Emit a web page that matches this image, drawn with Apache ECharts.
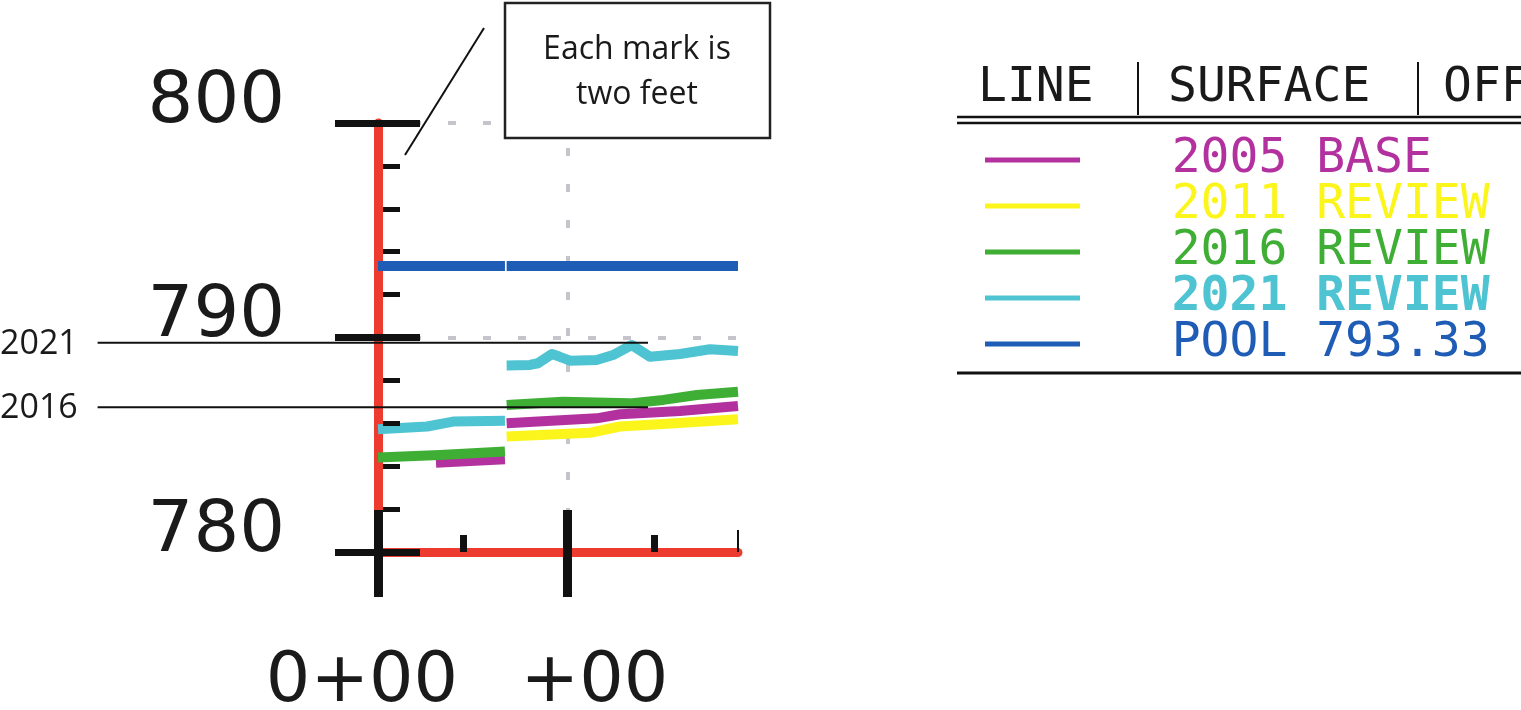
<!DOCTYPE html>
<html><head><meta charset="utf-8">
<script src="https://cdn.jsdelivr.net/npm/echarts@6/dist/echarts.min.js"></script>
<style>html,body{margin:0;padding:0;background:#fff}#c{width:1521px;height:710px}</style>
</head><body><div id="c"></div>
<script>
// ---- data ----
const seriesNames = ['2005 BASE', '2011 REVIEW', '2016 REVIEW', '2021 REVIEW', 'POOL 793.33'];
const seriesColors = ['#b2319f', '#fbf51c', '#3fae35', '#4ec3d2', '#1f5cb6'];
const base2005 = [[30.6,784.16],[67,784.32],[67.4,'-'],[67.9,786.0],[115.4,786.23],[127.7,786.42],[159.4,786.57],[190,786.81]];
const review2011 = [[67.9,785.38],[111.9,785.56],[127.7,785.85],[150.4,785.97],[190,786.19]];
const review2016 = [[0,784.41],[32.7,784.52],[67,784.68],[67.4,'-'],[67.9,786.85],[97.6,787.0],[133,786.93],[150.6,787.09],[168.3,787.32],[190,787.47]];
const review2021 = [[0,785.72],[25.9,785.85],[39.6,786.08],[67,786.12],[67.4,'-'],[67.9,788.7],[80.2,788.72],[84.4,788.8],[91.8,789.23],[96,789.1],[101.3,788.92],[115.4,788.95],[124,789.18],[133.9,789.65],[143.5,789.1],[159.4,789.23],[175.2,789.45],[190,789.37]];
const poolElev = 793.33;
const pool = [[0,poolElev],[67,poolElev],[67.4,'-'],[67.9,poolElev],[190,poolElev]];
const seriesData = [base2005, review2011, review2016, review2021, pool];

const yLabelValues = [780, 790, 800];
const xLabelValues = [0, 100];
const xLabelTexts = ['0+00', '+00'];
const xGridValues = [100];
const xMinorMarks = [45, 146];
const xEndMark = [190];
const tableHeaders = ['LINE', 'SURFACE', 'OFF'];
const annotations = [{ text: '2021', elev: 789.75 }, { text: '2016', elev: 786.75 }];
const noteLines = ['Each mark is', 'two feet'];

// ---- chart ----
const chart = echarts.init(document.getElementById('c'), null, { renderer: 'canvas' });
const RED = '#ee3b30', BLK = '#111', GRID = '#c4c4ca';
const grid = { left: 378, right: 783, top: 123, bottom: 158, containLabel: false, outerBoundsMode: 'none' };
const yBase = { type: 'value', min: 780, max: 800, interval: 10, gridIndex: 0, position: 'left' };
const xBase = { type: 'value', min: 0, max: 190, interval: 100, gridIndex: 0, position: 'bottom' };
const hidden = { axisLine: { show: false }, axisLabel: { show: false }, splitLine: { show: false } };
const xLabelPad = [[0, 32, 0, 0], [0, 0, 0, 54]];

function xLabelAxis(i) {
  return Object.assign({}, xBase, {
    z: i === 0 ? 0 : 5,
    axisLine: { show: i === 0, lineStyle: { color: RED, width: 9 } },
    axisTick: { show: false },
    splitLine: { show: false },
    axisLabel: {
      customValues: [xLabelValues[i]], showMinLabel: true, showMaxLabel: true, hideOverlap: false, margin: 96,
      fontFamily: 'DejaVu Sans', fontSize: 70, lineHeight: 70, color: '#1a1a1a',
      formatter: () => '{t|' + xLabelTexts[i] + '}',
      rich: { t: { fontFamily: 'DejaVu Sans', fontSize: 70, lineHeight: 70, color: '#1a1a1a', padding: xLabelPad[i] } }
    }
  });
}

const option = {
  animation: false,
  backgroundColor: '#fff',
  grid: grid,
  xAxis: [
    xLabelAxis(0),
    xLabelAxis(1),
    Object.assign({}, xBase, hidden, { z: 5, axisTick: { show: true, customValues: xLabelValues, length: 45, lineStyle: { color: BLK, width: 9 } } }),
    Object.assign({}, xBase, hidden, { z: 5, axisTick: { show: true, inside: true, customValues: xLabelValues, length: 42, lineStyle: { color: BLK, width: 9 } } }),
    Object.assign({}, xBase, hidden, { z: 5, axisTick: { show: true, inside: true, customValues: xMinorMarks, length: 17, lineStyle: { color: BLK, width: 7 } } }),
    Object.assign({}, xBase, hidden, { z: 5, axisTick: { show: true, inside: true, customValues: xEndMark, length: 22, lineStyle: { color: BLK, width: 2 } } })
  ],
  yAxis: [
    Object.assign({}, yBase, {
      z: 0,
      axisLine: { show: true, lineStyle: { color: RED, width: 9 } },
      axisTick: { show: false },
      splitLine: { show: true, lineStyle: { color: GRID, width: 4, type: [8, 27] } },
      axisLabel: { customValues: yLabelValues, showMinLabel: true, showMaxLabel: true, margin: 93, fontFamily: 'DejaVu Sans', fontSize: 72, lineHeight: 40, verticalAlign: 'bottom', color: '#1a1a1a' }
    }),
    Object.assign({}, yBase, hidden, { z: 5, offset: -5, axisTick: { show: false, inside: true }, minorTick: { show: true, splitNumber: 5, length: 17, lineStyle: { color: BLK, width: 5 } } }),
    Object.assign({}, yBase, hidden, { z: 5, axisTick: { show: true, length: 43, lineStyle: { color: BLK, width: 7 } } }),
    Object.assign({}, yBase, hidden, { z: 5, axisTick: { show: true, inside: true, length: 42, lineStyle: { color: BLK, width: 7 } } })
  ],
  legend: {
    orient: 'vertical', left: 980, top: 131, itemWidth: 95, itemHeight: 5, itemGap: -2, icon: 'rect',
    selectedMode: false, formatter: '   {name}',
    textStyle: { fontFamily: 'DejaVu Sans Mono', fontSize: 48, lineHeight: 46 },
    data: seriesNames.map((n, i) => ({ name: n, textStyle: { color: seriesColors[i], fontWeight: n.indexOf('2021') === 0 ? 'bold' : 'normal' } }))
  },
  series: seriesNames.map((n, i) => {
    const s = {
      name: n, type: 'line', data: seriesData[i], xAxisIndex: 0, yAxisIndex: 0,
      showSymbol: false, symbol: 'none', color: seriesColors[i], z: 2,
      lineStyle: { color: seriesColors[i], width: 10, cap: 'butt', join: 'round' }
    };
    if (i === 4) {
      s.markLine = {
        silent: true, symbol: 'none', z: 1, label: { show: false },
        lineStyle: { color: GRID, width: 4, type: [8, 28] },
        data: xGridValues.map(v => ({ xAxis: v }))
      };
    }
    return s;
  })
};
chart.setOption(option);

// ---- annotations (positions from data via the chart's scales) ----
const g = [];
annotations.forEach(a => {
  const p0 = chart.convertToPixel({ xAxisIndex: 0, yAxisIndex: 0 }, [-148, a.elev]);
  const p1 = chart.convertToPixel({ xAxisIndex: 0, yAxisIndex: 0 }, [142.5, a.elev]);
  g.push({ type: 'line', z: 20, shape: { x1: p0[0], y1: p0[1], x2: p1[0], y2: p1[1] }, style: { stroke: '#111', lineWidth: 2 } });
  g.push({ type: 'text', z: 20, x: 0, y: p0[1] + 1, style: { text: a.text, fontFamily: 'Open Sans', fontSize: 34, fill: '#1a1a1a', textAlign: 'left', textVerticalAlign: 'middle' } });
});
// note box
g.push({ type: 'line', z: 20, shape: { x1: 484, y1: 28, x2: 405, y2: 155 }, style: { stroke: '#111', lineWidth: 2 } });
g.push({ type: 'rect', z: 20, shape: { x: 505, y: 3, width: 265, height: 135 }, style: { fill: '#fff', stroke: '#222', lineWidth: 2.5 } });
noteLines.forEach((t, i) => g.push({ type: 'text', z: 21, x: 637, y: 50 + i * 45, style: { text: t, fontFamily: 'Open Sans', fontSize: 32, fill: '#1a1a1a', textAlign: 'center', textVerticalAlign: 'middle' } }));
// table frame
const headerX = [978, 1168, 1443];
tableHeaders.forEach((t, i) => g.push({ type: 'text', z: 20, x: headerX[i], y: 89, style: { text: t, fontFamily: 'DejaVu Sans Mono', fontSize: 48, fill: '#1a1a1a', textAlign: 'left', textVerticalAlign: 'middle' } }));
[1138, 1418].forEach(x => g.push({ type: 'line', z: 20, shape: { x1: x, y1: 62, x2: x, y2: 115 }, style: { stroke: '#111', lineWidth: 2 } }));
[117, 123].forEach(y => g.push({ type: 'line', z: 20, shape: { x1: 957, y1: y, x2: 1521, y2: y }, style: { stroke: '#111', lineWidth: 2.5 } }));
g.push({ type: 'line', z: 20, shape: { x1: 957, y1: 373, x2: 1521, y2: 373 }, style: { stroke: '#111', lineWidth: 3 } });
chart.setOption({ graphic: g });
</script></body></html>
